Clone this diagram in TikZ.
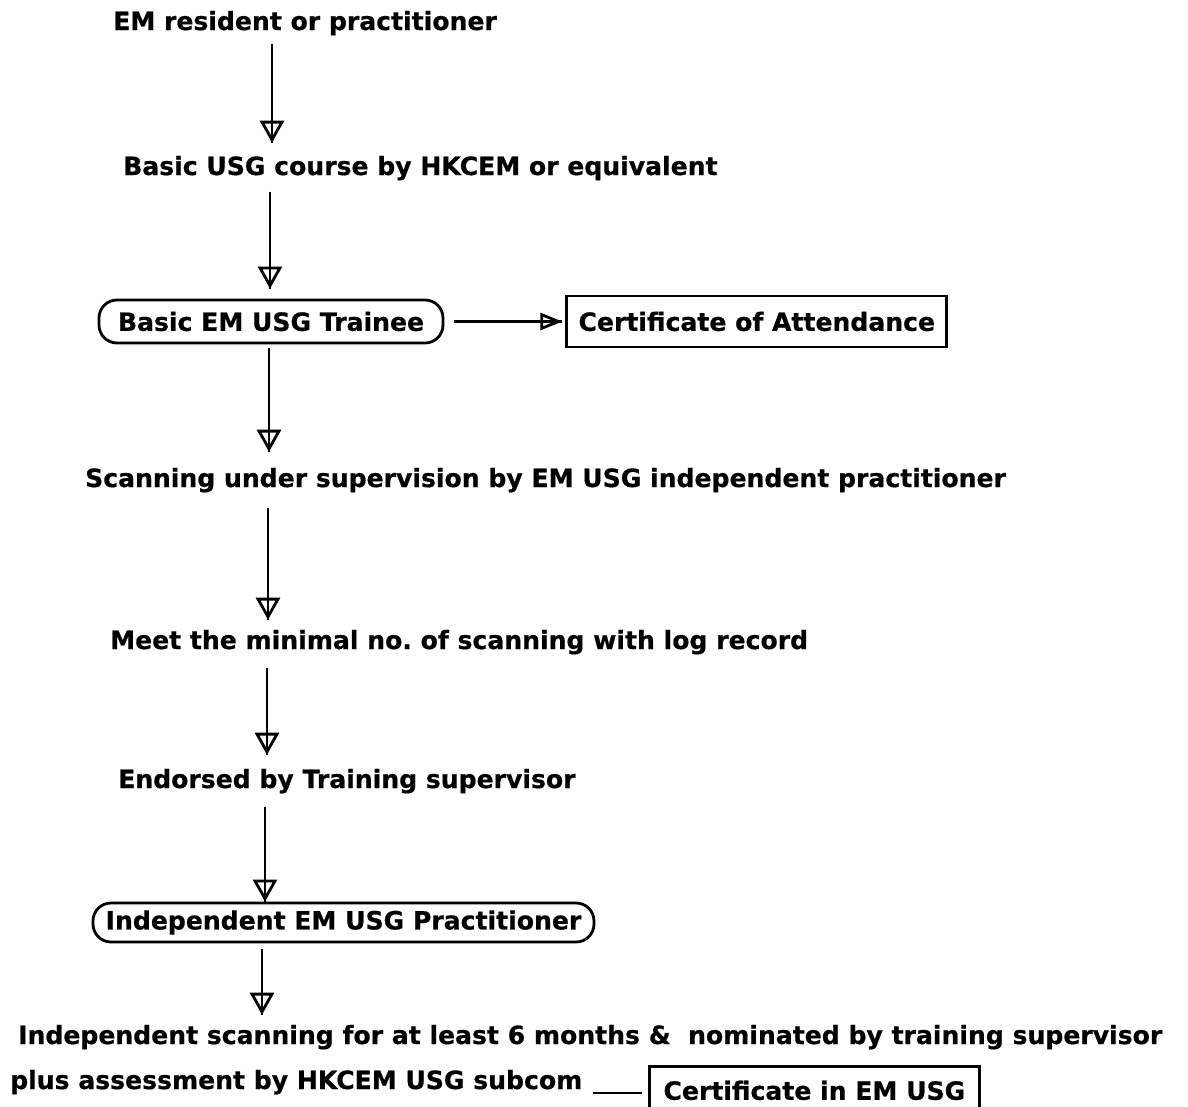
\documentclass[tikz,border=0pt]{standalone}
\usepackage{fontspec}
\setmainfont{DejaVu Sans}[BoldFeatures={FakeBold=0.6}]
\usetikzlibrary{arrows.meta,positioning}

\begin{document}
\begin{tikzpicture}[x=1pt,y=-1pt,
every node/.style={font=\fontsize{25.1}{30}\selectfont\bfseries},
txt/.style={anchor=base west,inner sep=0pt},
pill/.style={draw,line width=2.8pt,rounded corners=18pt,inner sep=0pt},
certbox/.style={draw,line width=2.8pt,inner sep=0pt},
flow/.style={line width=2.8pt,-{Triangle[open,length=22pt,width=24pt]},
 postaction={draw,arrows=-}},
flowh/.style={flow,-{Triangle[open,length=22pt,width=17pt]}}]
 \useasboundingbox (0,0) rectangle (1188,1106);
 \node[txt] (emres) at (113,30) {EM resident or practitioner};
 \node[txt] (course) at (123,175) {Basic USG course by HKCEM or equivalent};
 \node[pill,minimum width=344pt,minimum height=43pt] (trainee) at (271,321.5)
 {Basic EM USG Trainee};
 \node[certbox,minimum width=380pt,minimum height=51pt,right=121pt of trainee]
 (attend) {Certificate of Attendance};
 \node[txt] (scan) at (85,487)
 {Scanning under supervision by EM USG independent practitioner};
 \node[txt] (meet) at (110,649) {Meet the minimal no.\ of scanning with log record};
 \node[txt] (endorse) at (118,788) {Endorsed by Training supervisor};
 \node[pill,minimum width=501pt,minimum height=39pt] (indep) at (343.5,922.5)
 {Independent EM USG Practitioner};
 \node[txt] (scan6) at (18,1044)
 {Independent scanning for at least 6 months \&\ \ nominated by training supervisor};
 \node[txt] (assess) at (10,1089) {plus assessment by HKCEM USG subcom};
 \node[certbox,anchor=north west,minimum width=330pt,minimum height=48pt]
 (certusg) at (648,1065) {Certificate in EM USG};
 % downward steps
 \draw[flow,shorten <=9pt,shorten >=13pt] ([xshift=159pt]emres.south west)
 -- ([xshift=149pt]course.north west);
 \draw[flow,shorten <=11pt,shorten >=10pt] ([xshift=147pt]course.south west)
 -- ([xshift=-1pt]trainee.north);
 \draw[flow,shorten <=4pt,shorten >=16pt] ([xshift=-2pt]trainee.south)
 -- ([xshift=184pt]scan.north west);
 \draw[flow,shorten <=15pt,shorten >=10pt] ([xshift=183pt]scan.south west)
 -- ([xshift=158pt]meet.north west);
 \draw[flow,shorten <=13pt,shorten >=14pt] ([xshift=157pt]meet.south west)
 -- ([xshift=149pt]endorse.north west);
 \draw[flow,shorten <=13pt] ([xshift=147pt]endorse.south west)
 -- ([xshift=-78.5pt]indep.north);
 \draw[flow,shorten <=6pt,shorten >=10pt] ([xshift=-81.5pt]indep.south)
 -- ([xshift=244pt]scan6.north west);
 % side outputs
 \draw[flowh,shorten <=10pt,shorten >=3pt] (trainee.east) -- (attend.west);
 \draw[line width=2.6pt,shorten <=10pt,shorten >=6pt] ([yshift=-4pt]assess.base east)
 -- ([yshift=-4pt]assess.base east -| certusg.west);
\end{tikzpicture}
\end{document}
